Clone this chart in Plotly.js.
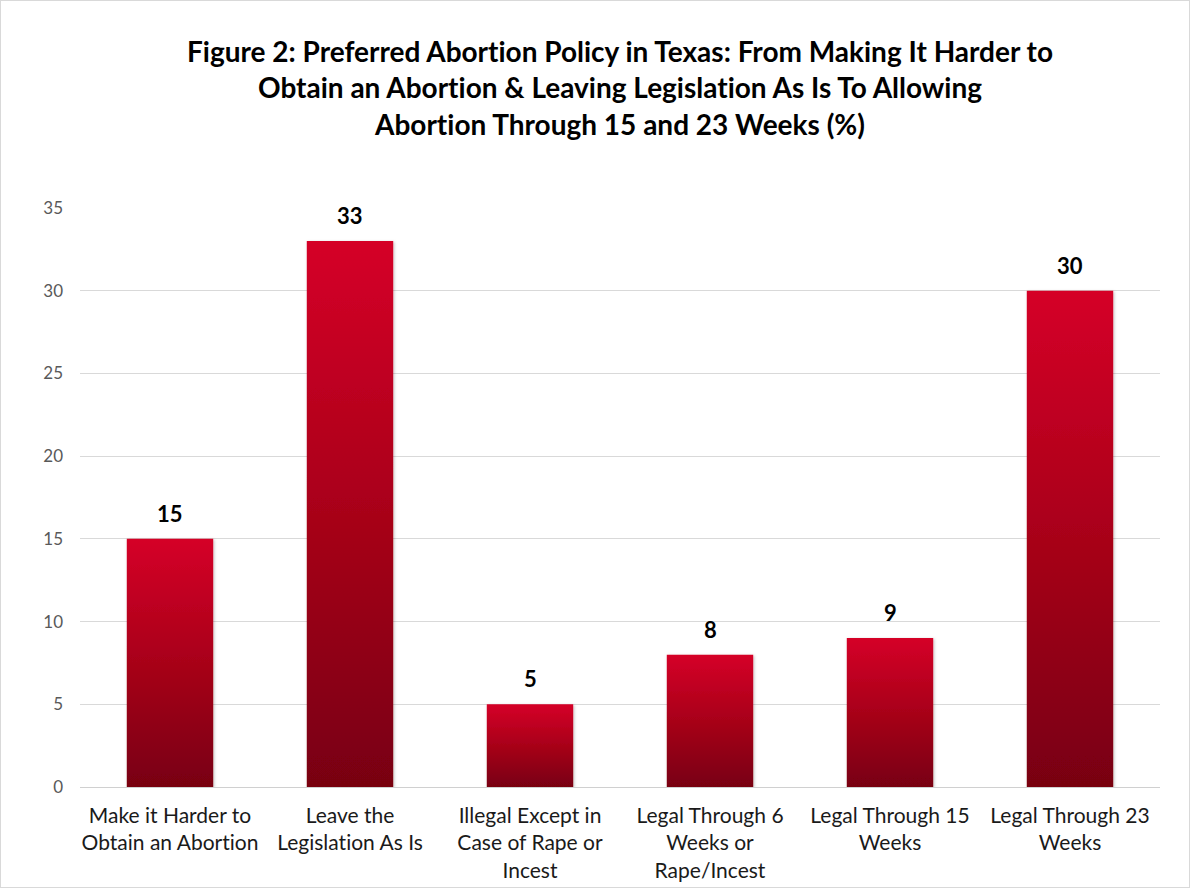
<!DOCTYPE html>
<html>
<head>
<meta charset="utf-8">
<script src="https://cdn.plot.ly/plotly-3.0.1.min.js"></script>
<style>
  html, body { margin: 0; padding: 0; background: #fff; }
  #wrap { position: relative; width: 1190px; height: 888px; }
  #chart { width: 1190px; height: 888px; }
  #chart text, #chart tspan { font-variant-ligatures: none !important; font-feature-settings: "liga" 0, "clig" 0 !important; }
  #frame { position: absolute; left: 0; top: 0; width: 1190px; height: 888px; box-sizing: border-box;
           border: 1px solid #d9d9d9; pointer-events: none; z-index: 10; }
</style>
</head>
<body>
<div id="wrap">
  <div id="chart"></div>
  <div id="frame"></div>
</div>
<script>
const categories = [
  "Make it Harder to Obtain an Abortion",
  "Leave the Legislation As Is",
  "Illegal Except in Case of Rape or Incest",
  "Legal Through 6 Weeks or Rape/Incest",
  "Legal Through 15 Weeks",
  "Legal Through 23 Weeks"
];
const tickLabels = [
  "Make it Harder to<br>Obtain an Abortion",
  "Leave the<br>Legislation As Is",
  "Illegal Except in<br>Case of Rape or<br>Incest",
  "Legal Through 6<br>Weeks or<br>Rape/Incest",
  "Legal Through 15<br>Weeks",
  "Legal Through 23<br>Weeks"
];
const values = [15, 33, 5, 8, 9, 30];
const yTicks = [0, 5, 10, 15, 20, 25, 30, 35];
const titleText = "<b>Figure 2: Preferred Abortion Policy in Texas: From Making It Harder to<br>Obtain an Abortion &amp; Leaving Legislation As Is To Allowing<br>Abortion Through 15 and 23 Weeks (%)</b>";

const FONT = "Lato, 'Open Sans', sans-serif";

const trace = {
  type: "bar",
  x: categories,
  y: values,
  marker: { color: "#b0001f", line: { width: 0 } },
  hoverinfo: "skip",
  width: 0.48
};

const annotations = values.map((v, i) => ({
  x: categories[i],
  y: v,
  xref: "x",
  yref: "y",
  text: "<b>" + v + "</b>",
  showarrow: false,
  yanchor: "bottom",
  yshift: 10,
  font: { family: FONT, size: 22, color: "#000000" }
}));

const layout = {
  width: 1190,
  height: 888,
  paper_bgcolor: "#ffffff",
  plot_bgcolor: "#ffffff",
  margin: { l: 80, r: 30, t: 208, b: 101 },
  showlegend: false,
  bargap: 0.52,
  title: {
    text: titleText,
    x: 0.5,
    xref: "paper",
    xanchor: "center",
    y: 1 - 62 / 888,
    yref: "container",
    yanchor: "top",
    font: { family: FONT, size: 28, color: "#000000" }
  },
  xaxis: {
    type: "category",
    tickvals: categories,
    ticktext: tickLabels,
    showgrid: false,
    showline: false,
    zeroline: false,
    ticks: "",
    ticklabelstandoff: 14,
    tickfont: { family: FONT, size: 21, color: "#1a1a1a" },
    fixedrange: true
  },
  yaxis: {
    range: [0, 35],
    tickvals: yTicks,
    ticktext: yTicks.map(String),
    showgrid: true,
    gridcolor: "#d9d9d9",
    gridwidth: 1,
    zeroline: true,
    zerolinecolor: "#d0d0d0",
    zerolinewidth: 1,
    showline: false,
    ticks: "",
    ticklabelstandoff: 16,
    tickfont: { family: FONT, size: 17, color: "#595959" },
    fixedrange: true
  },
  annotations: annotations
};

Plotly.newPlot("chart", [trace], layout, { displayModeBar: false, staticPlot: true }).then(gd => {
  const svg = gd.querySelector("svg.main-svg");
  const ns = "http://www.w3.org/2000/svg";
  let defs = svg.querySelector("defs");
  if (!defs) { defs = document.createElementNS(ns, "defs"); svg.insertBefore(defs, svg.firstChild); }
  const grad = document.createElementNS(ns, "linearGradient");
  grad.setAttribute("id", "barGrad");
  grad.setAttribute("x1", "0"); grad.setAttribute("y1", "0");
  grad.setAttribute("x2", "0"); grad.setAttribute("y2", "1");
  [["0", "#d50028"], ["0.5", "#a80019"], ["1", "#780011"]].forEach(([o, c]) => {
    const s = document.createElementNS(ns, "stop");
    s.setAttribute("offset", o); s.setAttribute("stop-color", c);
    grad.appendChild(s);
  });
  defs.appendChild(grad);
  const filt = document.createElementNS(ns, "filter");
  filt.setAttribute("id", "barShadow");
  filt.setAttribute("x", "-20%"); filt.setAttribute("y", "-10%");
  filt.setAttribute("width", "140%"); filt.setAttribute("height", "120%");
  const ds = document.createElementNS(ns, "feDropShadow");
  ds.setAttribute("dx", "1"); ds.setAttribute("dy", "1");
  ds.setAttribute("stdDeviation", "1.5");
  ds.setAttribute("flood-color", "#000"); ds.setAttribute("flood-opacity", "0.25");
  filt.appendChild(ds);
  defs.appendChild(filt);
  gd.querySelectorAll(".barlayer .point path").forEach(p => {
    p.style.fill = "url(#barGrad)";
    p.setAttribute("filter", "url(#barShadow)");
  });
});
</script>
</body>
</html>
